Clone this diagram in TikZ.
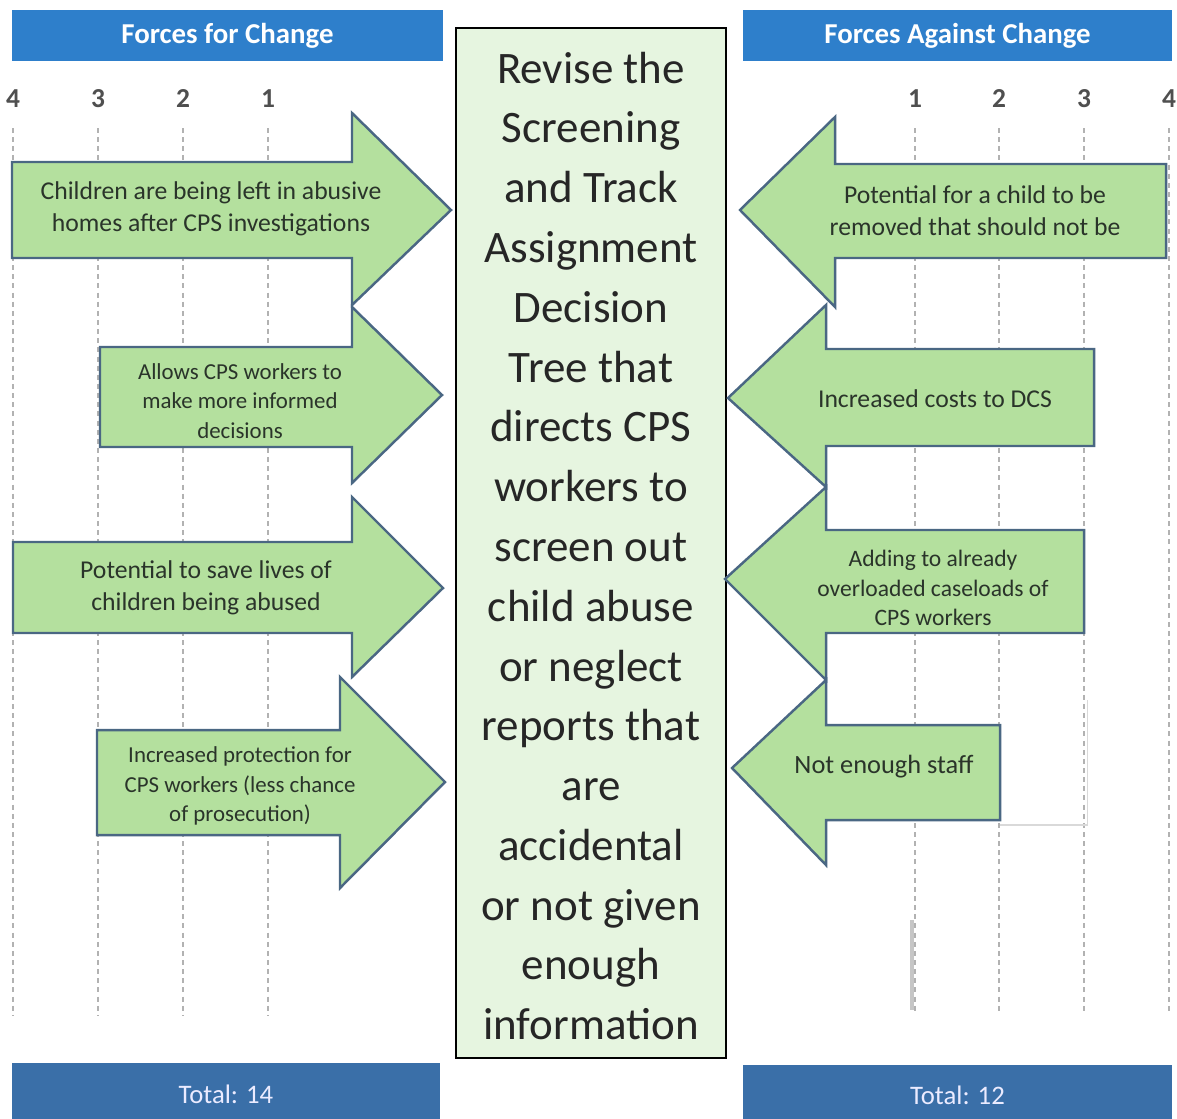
\documentclass[tikz,border=0pt]{standalone}
\usepackage{fontspec}
\setmainfont{Carlito}
\usepackage{tikz}
\definecolor{headblue}{HTML}{2E7FCB}
\definecolor{footblue}{HTML}{3A6FA8}
\definecolor{forcegreen}{HTML}{B4E09E}
\definecolor{arrowline}{HTML}{4A6783}
\definecolor{goalgreen}{HTML}{E6F5E0}
\definecolor{numgrey}{HTML}{4F4F4F}
\definecolor{txtdark}{HTML}{2A342A}
\tikzset{
  headbar/.style = {fill=headblue, text=white, inner sep=0pt,
    font=\bfseries\fontsize{8.2}{9}\selectfont},
  footbar/.style = {fill=footblue, text=white!92!blue, inner sep=0pt,
    font=\fontsize{7.6}{9}\selectfont},
  scalenum/.style = {text=numgrey, inner sep=0pt,
    font=\bfseries\fontsize{7.8}{9}\selectfont},
  scaleline/.style = {gray!60, line width=0.35pt,
    dash pattern=on 1.4pt off 1.2pt},
  forcearrow/.style = {fill=forcegreen, draw=arrowline, line width=0.7pt,
    line join=miter},
  forcetxt/.style = {align=center, text=txtdark, inner sep=0pt},% text in the arrows
  bigtxt/.style = {forcetxt, font=\fontsize{7.3}{9.1}\selectfont},
  smalltxt/.style = {forcetxt, font=\fontsize{6.5}{8.3}\selectfont},
  goalbox/.style = {fill=goalgreen, draw=black, line width=0.6pt,
    align=center, text=black!85, inner sep=0pt,
    font=\fontsize{12.8}{17}\selectfont},
}

\begin{document}
\begin{tikzpicture}[x=0.01cm,y=-0.01cm]
  \useasboundingbox (0,0) rectangle (1177,1118);

  % headers and totals
  \node[headbar, minimum width=4.31cm, minimum height=0.51cm] (hfor) at (227.5,35.5) {Forces for Change};
  \node[headbar, minimum width=4.29cm, minimum height=0.51cm] (hagainst) at (957.5,35.5) {Forces Against Change};
  \node[footbar, minimum width=4.28cm, minimum height=0.62cm] (totfor) at (226,1094) {Total: 14};
  \node[footbar, minimum width=4.29cm, minimum height=0.60cm] (totagainst) at (957.5,1095) {Total: 12};

  % scales
  \foreach \xx/\n in {13/4, 98/3, 183/2, 268/1} {
    \node[scalenum] (lf\n) at (\xx,99) {\n};
    \draw[scaleline] (\xx,128) -- (\xx,1015);
  }
  \foreach \xx/\n in {915/1, 999/2, 1084/3, 1169/4} {
    \node[scalenum] (la\n) at (\xx,99) {\n};
    \draw[scaleline] (\xx,128) -- (\xx,1012);
  }
  \draw[gray!30, line width=0.3pt] (1000,825) -- (1087,825) -- (1087,700);
  \draw[gray!45, line width=1.3pt] (912,920) -- (912,1010);

  % the change
  \node[goalbox, minimum width=2.70cm, minimum height=10.30cm] (goal) at (591,543) {};
  \node[goalbox, draw=none, fill=none] (goaltxt) at (591,546) {Revise the\\Screening\\and Track\\Assignment\\Decision\\Tree that\\directs CPS\\workers to\\screen out\\child abuse\\or neglect\\reports that\\are\\accidental\\or not given\\enough\\information};

  %   forces for change
  \draw[forcearrow] (12,162) -- (352,162) -- (352,113) -- (451,210) -- (352,305) -- (352,258) -- (12,258) -- cycle;
  \node[bigtxt] (f1) at (211,209) {Children are being left in abusive\\homes after CPS investigations};
  \draw[forcearrow] (100,347) -- (352,347) -- (352,307) -- (442,395) -- (352,483) -- (352,447) -- (100,447) -- cycle;
  \node[smalltxt] (f2) at (240,401) {Allows CPS workers to\\make more informed\\decisions};
  \draw[forcearrow] (13,542) -- (352,542) -- (352,497) -- (443,588) -- (352,677) -- (352,633) -- (13,633) -- cycle;
  \node[bigtxt] (f3) at (206,588) {Potential to save lives of\\children being abused};
  \draw[forcearrow] (97,730) -- (340,730) -- (340,677) -- (445,782) -- (340,888) -- (340,835) -- (97,835) -- cycle;
  \node[smalltxt] (f4) at (240,786) {Increased protection for\\CPS workers (less chance\\of prosecution)};

  %   forces against change
  \draw[forcearrow] (1166,164) -- (835,164) -- (835,117) -- (740,210) -- (835,307) -- (835,258) -- (1166,258) -- cycle;
  \node[bigtxt] (a1) at (975,211) {Potential for a child to be\\removed that should not be};
  \draw[forcearrow] (1094,349) -- (826,349) -- (826,305) -- (728,398) -- (826,487) -- (826,446) -- (1094,446) -- cycle;
  \node[bigtxt] (a2) at (935,399) {Increased costs to DCS};
  \draw[forcearrow] (1084,530) -- (826,530) -- (826,487) -- (725,579) -- (826,680) -- (826,633) -- (1084,633) -- cycle;
  \node[smalltxt, font=\fontsize{6.7}{8.4}\selectfont] (a3) at (933,588) {Adding to already\\overloaded caseloads of\\CPS workers};
  \draw[forcearrow] (1000,725) -- (826,725) -- (826,680) -- (732,768) -- (826,865) -- (826,820) -- (1000,820) -- cycle;
  \node[bigtxt, font=\fontsize{7.5}{9}\selectfont] (a4) at (884,767) {Not enough staff};
\end{tikzpicture}
\end{document}
